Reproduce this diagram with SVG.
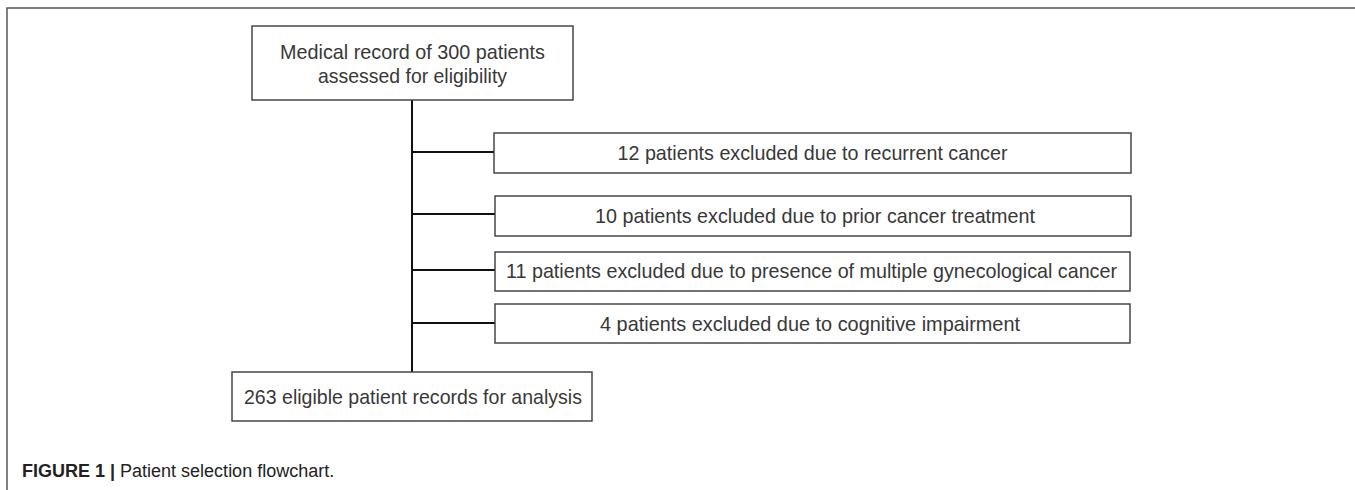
<svg xmlns="http://www.w3.org/2000/svg" width="1355" height="490" viewBox="0 0 1355 490">
<style>
.box{fill:#fff;stroke:#3a3a3a;stroke-width:1.4}
.t{font-family:"Liberation Sans",Arial,sans-serif;font-size:21px;fill:#383838;text-anchor:middle}
.conn{stroke:#111;stroke-width:2;fill:none}
.frame{stroke:#555;stroke-width:1.5;fill:none}
.cap{font-family:"Liberation Sans",Arial,sans-serif;font-size:18px;fill:#222}
</style>
<rect width="1355" height="490" fill="#fff"/>
<path class="frame" d="M7,490 V8 H1355"/>
<g id="connectors">
<line class="conn" x1="412" y1="100" x2="412" y2="372"/>
<line class="conn" x1="412" y1="152" x2="494" y2="152"/>
<line class="conn" x1="412" y1="214" x2="495" y2="214"/>
<line class="conn" x1="412" y1="270" x2="495" y2="270"/>
<line class="conn" x1="412" y1="323" x2="495" y2="323"/>
</g>
<g id="n_start">
<rect class="box" x="252" y="26" width="321" height="74"/>
<text class="t" x="412.5" y="59" textLength="265" lengthAdjust="spacingAndGlyphs">Medical record of 300 patients</text>
<text class="t" x="412.5" y="83" textLength="189" lengthAdjust="spacingAndGlyphs">assessed for eligibility</text>
</g>
<g id="n_ex1">
<rect class="box" x="494" y="133" width="637" height="40"/>
<text class="t" x="812.5" y="160" textLength="390" lengthAdjust="spacingAndGlyphs">12 patients excluded due to recurrent cancer</text>
</g>
<g id="n_ex2">
<rect class="box" x="495" y="196" width="636" height="40"/>
<text class="t" x="815" y="223" textLength="440" lengthAdjust="spacingAndGlyphs">10 patients excluded due to prior cancer treatment</text>
</g>
<g id="n_ex3">
<rect class="box" x="495" y="252" width="635" height="39"/>
<text class="t" x="811.5" y="278" textLength="611" lengthAdjust="spacingAndGlyphs">11 patients excluded due to presence of multiple gynecological cancer</text>
</g>
<g id="n_ex4">
<rect class="box" x="495" y="304" width="635" height="39"/>
<text class="t" x="810" y="331" textLength="420" lengthAdjust="spacingAndGlyphs">4 patients excluded due to cognitive impairment</text>
</g>
<g id="n_end">
<rect class="box" x="232" y="372" width="360" height="49"/>
<text class="t" x="413" y="404" textLength="338" lengthAdjust="spacingAndGlyphs">263 eligible patient records for analysis</text>
</g>
<text class="cap" x="22" y="477"><tspan font-weight="bold">FIGURE 1 |</tspan> Patient selection flowchart.</text>
</svg>
